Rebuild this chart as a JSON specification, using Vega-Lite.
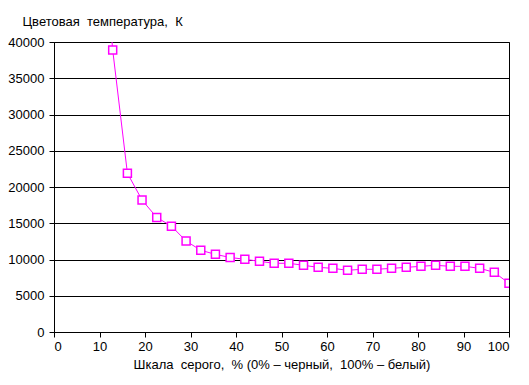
{
  "$schema": "https://vega.github.io/schema/vega-lite/v6.json",
  "width": 455,
  "height": 290,
  "autosize": {"type": "none"},
  "padding": {"left": 54, "top": 42, "right": 20, "bottom": 53},
  "background": "white",
  "config": {
    "view": {"stroke": "black", "strokeWidth": 1},
    "font": "Liberation Sans",
    "axis": {
      "labelFont": "Liberation Sans",
      "titleFont": "Liberation Sans",
      "labelFontSize": 13,
      "titleFontSize": 13,
      "titleFontWeight": "normal",
      "labelColor": "black",
      "titleColor": "black",
      "domainColor": "black",
      "tickColor": "black",
      "gridColor": "black",
      "gridOpacity": 1,
      "tickSize": 5
    }
  },
  "data": {
    "values": [
      {"gray": 9.68, "temp": 63000},
      {"gray": 12.9, "temp": 38900},
      {"gray": 16.13, "temp": 21900},
      {"gray": 19.35, "temp": 18200},
      {"gray": 22.58, "temp": 15800},
      {"gray": 25.81, "temp": 14600},
      {"gray": 29.03, "temp": 12550},
      {"gray": 32.26, "temp": 11270},
      {"gray": 35.48, "temp": 10710},
      {"gray": 38.71, "temp": 10280},
      {"gray": 41.94, "temp": 10030},
      {"gray": 45.16, "temp": 9750},
      {"gray": 48.39, "temp": 9480},
      {"gray": 51.61, "temp": 9480},
      {"gray": 54.84, "temp": 9200},
      {"gray": 58.06, "temp": 8920},
      {"gray": 61.29, "temp": 8780},
      {"gray": 64.52, "temp": 8510},
      {"gray": 67.74, "temp": 8650},
      {"gray": 70.97, "temp": 8650},
      {"gray": 74.19, "temp": 8780},
      {"gray": 77.42, "temp": 8920},
      {"gray": 80.65, "temp": 9060},
      {"gray": 83.87, "temp": 9200},
      {"gray": 87.1, "temp": 9060},
      {"gray": 90.32, "temp": 9060},
      {"gray": 93.55, "temp": 8780},
      {"gray": 96.77, "temp": 8230},
      {"gray": 100, "temp": 6710}
    ]
  },
  "encoding": {
    "x": {
      "field": "gray",
      "type": "quantitative",
      "scale": {"domain": [0, 100], "nice": false, "zero": false},
      "axis": {
        "values": [0, 10, 20, 30, 40, 50, 60, 70, 80, 90, 100],
        "grid": false,
        "labelPadding": 3,
        "title": "Шкала\u00a0 серого,\u00a0 % (0% – черный,\u00a0 100% – белый)",
        "titlePadding": 5
      }
    },
    "y": {
      "field": "temp",
      "type": "quantitative",
      "scale": {"domain": [0, 40000], "nice": false},
      "axis": {
        "values": [0, 5000, 10000, 15000, 20000, 25000, 30000, 35000, 40000],
        "grid": true,
        "format": "d",
        "labelPadding": 5,
        "title": "Цветовая\u00a0 температура,\u00a0 К",
        "titleAngle": 0,
        "titleAlign": "left",
        "titleBaseline": "middle",
        "titleX": -32,
        "titleY": -21
      }
    }
  },
  "layer": [
    {
      "mark": {"type": "line", "color": "#FF00FF", "strokeWidth": 1, "clip": true}
    },
    {
      "mark": {"type": "point", "shape": "square", "size": 64, "filled": false, "fill": "white", "fillOpacity": 1, "stroke": "#FF00FF", "strokeWidth": 1.5, "opacity": 1, "clip": true}
    }
  ]
}
